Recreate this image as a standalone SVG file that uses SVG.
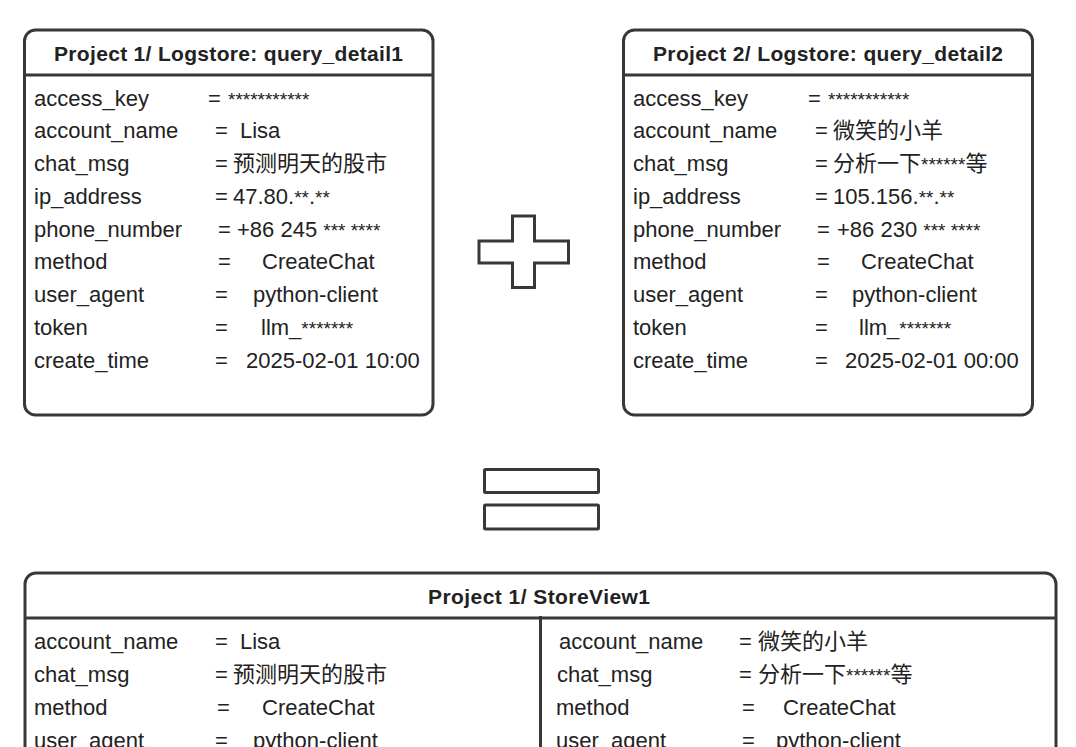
<svg xmlns="http://www.w3.org/2000/svg" width="1076" height="747" viewBox="0 0 1076 747">
<style>
.box{fill:#fff;stroke:#383838;stroke-width:3}
.ln{stroke:#383838;stroke-width:3;fill:none}
text{font-family:"Liberation Sans","Noto Sans CJK SC",sans-serif;fill:#222;font-size:22px}
.hd{font-weight:bold;font-size:21px;text-anchor:middle}
.a{font-size:19px}
</style>
<rect width="1076" height="747" fill="#fff"/>
<g id="logstore1">
<rect class="box" x="24.5" y="30" width="408.5" height="385" rx="11"/>
<line class="ln" x1="24.5" y1="75" x2="433" y2="75"/>
<text class="hd" x="228.5" y="61" textLength="349" lengthAdjust="spacing">Project 1/ Logstore: query_detail1</text>
<text x="34" y="106">access_key</text><text x="208" y="106">=</text><text x="228" y="106" class="a">***********</text>
<text x="34" y="138">account_name</text><text x="215" y="138">=</text><text x="240" y="138">Lisa</text>
<text x="34" y="171">chat_msg</text><text x="215" y="171">=</text><text x="233" y="171">预测明天的股市</text>
<text x="34" y="204">ip_address</text><text x="215" y="204">=</text><text x="233" y="204">47.80.<tspan class="a">**</tspan>.<tspan class="a">**</tspan></text>
<text x="34" y="237">phone_number</text><text x="218" y="237">=</text><text x="237" y="237">+86 245 <tspan class="a">*** ****</tspan></text>
<text x="34" y="269">method</text><text x="218" y="269">=</text><text x="262" y="269">CreateChat</text>
<text x="34" y="302">user_agent</text><text x="215" y="302">=</text><text x="253" y="302">python-client</text>
<text x="34" y="335">token</text><text x="215" y="335">=</text><text x="261" y="335">llm_<tspan class="a">*******</tspan></text>
<text x="34" y="368">create_time</text><text x="215" y="368">=</text><text x="246" y="368">2025-02-01 10:00</text>
</g>
<g id="logstore2">
<rect class="box" x="623.5" y="30" width="409" height="385" rx="11"/>
<line class="ln" x1="623.5" y1="75" x2="1032.5" y2="75"/>
<text class="hd" x="828" y="61" textLength="350" lengthAdjust="spacing">Project 2/ Logstore: query_detail2</text>
<text x="633" y="106">access_key</text><text x="808" y="106">=</text><text x="828" y="106" class="a">***********</text>
<text x="633" y="138">account_name</text><text x="815" y="138">=</text><text x="833" y="138">微笑的小羊</text>
<text x="633" y="171">chat_msg</text><text x="815" y="171">=</text><text x="833" y="171">分析一下<tspan class="a">******</tspan>等</text>
<text x="633" y="204">ip_address</text><text x="815" y="204">=</text><text x="833" y="204">105.156.<tspan class="a">**</tspan>.<tspan class="a">**</tspan></text>
<text x="633" y="237">phone_number</text><text x="817" y="237">=</text><text x="837" y="237">+86 230 <tspan class="a">*** ****</tspan></text>
<text x="633" y="269">method</text><text x="817" y="269">=</text><text x="861" y="269">CreateChat</text>
<text x="633" y="302">user_agent</text><text x="815" y="302">=</text><text x="852" y="302">python-client</text>
<text x="633" y="335">token</text><text x="815" y="335">=</text><text x="859" y="335">llm_<tspan class="a">*******</tspan></text>
<text x="633" y="368">create_time</text><text x="815" y="368">=</text><text x="845" y="368">2025-02-01 00:00</text>
</g>
<g id="plus">
<polygon class="ln" points="512.5,216 534.5,216 534.5,241 568.5,241 568.5,263 534.5,263 534.5,287.5 512.5,287.5 512.5,263 479,263 479,241 512.5,241"/>
</g>
<g id="equals">
<rect class="ln" x="484.5" y="469.5" width="114" height="23" rx="1"/>
<rect class="ln" x="484.5" y="505" width="114" height="24" rx="1"/>
</g>
<g id="storeview1">
<rect class="box" x="25" y="573" width="1031" height="260" rx="11"/>
<line class="ln" x1="25" y1="618" x2="1056" y2="618"/>
<line class="ln" x1="540.5" y1="616" x2="540.5" y2="760"/>
<text class="hd" x="539" y="604" textLength="222" lengthAdjust="spacing">Project 1/ StoreView1</text>
<text x="34" y="649">account_name</text><text x="215" y="649">=</text><text x="240" y="649">Lisa</text>
<text x="34" y="682">chat_msg</text><text x="215" y="682">=</text><text x="233" y="682">预测明天的股市</text>
<text x="34" y="715">method</text><text x="217" y="715">=</text><text x="262" y="715">CreateChat</text>
<text x="34" y="748">user_agent</text><text x="215" y="748">=</text><text x="253" y="748">python-client</text>
<text x="559" y="649">account_name</text><text x="739" y="649">=</text><text x="758" y="649">微笑的小羊</text>
<text x="557" y="682">chat_msg</text><text x="739" y="682">=</text><text x="758" y="682">分析一下<tspan class="a">******</tspan>等</text>
<text x="556" y="715">method</text><text x="742" y="715">=</text><text x="783" y="715">CreateChat</text>
<text x="556" y="748">user_agent</text><text x="742" y="748">=</text><text x="776" y="748">python-client</text>
</g>
</svg>
